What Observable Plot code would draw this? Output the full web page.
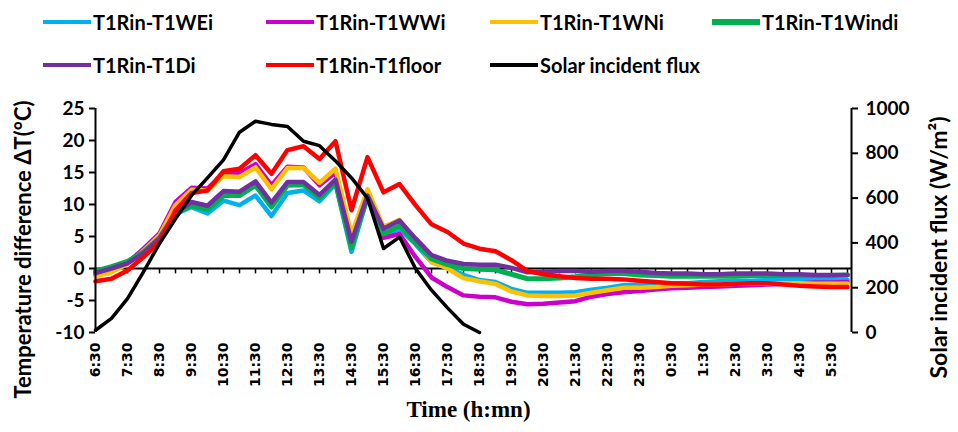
<!DOCTYPE html>
<html><head><meta charset="utf-8">
<script src="https://cdn.jsdelivr.net/npm/d3@7"></script>
<script src="https://cdn.jsdelivr.net/npm/@observablehq/plot@0.6"></script>
<style>
body{margin:0;background:#fff;}
#wrap{position:relative;width:958px;height:432px;overflow:hidden;font-family:Lato,"Open Sans",sans-serif;background:#fff;}
#legend{position:absolute;left:0;top:0;width:958px;height:90px;}
.item{position:absolute;display:flex;align-items:center;font-weight:bold;font-size:20px;color:#000;white-space:nowrap;transform:translateY(-50%);}
.sw{width:48px;height:4px;margin-right:2px;}
#chart{position:absolute;left:0;top:90px;}
</style></head>
<body><div id="wrap"><div id="legend"></div><div id="chart"></div></div>
<script>
// categories (half-hour steps)
const times = ["6:30","7:00","7:30","8:00","8:30","9:00","9:30","10:00","10:30","11:00","11:30","12:00","12:30","13:00","13:30","14:00","14:30","15:00","15:30","16:00","16:30","17:00","17:30","18:00","18:30","19:00","19:30","20:00","20:30","21:00","21:30","22:00","22:30","23:00","23:30","0:00","0:30","1:00","1:30","2:00","2:30","3:00","3:30","4:00","4:30","5:00","5:30","6:00"];
const tickLabels = ["6:30","7:30","8:30","9:30","10:30","11:30","12:30","13:30","14:30","15:30","16:30","17:30","18:30","19:30","20:30","21:30","22:30","23:30","0:30","1:30","2:30","3:30","4:30","5:30"];
const leftTicks = [-10,-5,0,5,10,15,20,25];
const fluxTicks = [0,200,400,600,800,1000];

// series values (°C)
const WEi   = [-0.5,0.2,1.0,2.6,4.8,8.5,9.6,8.6,10.6,9.9,11.4,8.2,11.8,12.2,10.5,13.2,2.6,11.2,5.2,6.2,3.8,1.0,0.2,-1.0,-1.8,-2.1,-3.2,-3.8,-3.8,-3.8,-3.7,-3.3,-3.0,-2.6,-2.5,-2.4,-2.3,-2.3,-2.1,-2.0,-1.9,-1.9,-1.8,-1.8,-1.8,-1.8,-1.8,-1.8];
const WWi   = [-1.0,-0.3,0.9,3.1,5.5,10.4,12.6,12.5,14.9,14.9,16.3,13.0,15.9,15.8,13.0,15.0,4.4,11.5,4.8,5.4,1.8,-1.4,-2.9,-4.2,-4.4,-4.5,-5.2,-5.6,-5.5,-5.3,-5.1,-4.4,-4.0,-3.7,-3.5,-3.3,-3.1,-3.0,-2.9,-2.8,-2.7,-2.6,-2.5,-2.4,-2.3,-2.2,-2.2,-2.1];
const WNi   = [-1.2,-0.6,0.7,2.8,5.2,9.9,12.3,12.2,14.4,14.3,15.8,12.4,15.7,15.7,13.4,15.6,5.3,12.4,6.5,7.6,4.4,1.0,0.0,-1.5,-2.0,-2.4,-3.6,-4.2,-4.3,-4.3,-4.2,-3.8,-3.4,-3.0,-3.0,-2.9,-2.7,-2.6,-2.5,-2.5,-2.4,-2.4,-2.4,-2.3,-2.3,-2.4,-2.4,-2.4];
const Windi = [-0.4,0.3,1.1,2.6,4.8,8.6,9.8,9.2,11.4,11.4,13.0,9.6,13.0,13.1,11.0,13.5,3.2,11.2,5.4,6.7,4.0,1.5,0.6,0.0,-0.1,-0.2,-0.9,-1.6,-1.6,-1.5,-1.3,-1.0,-0.8,-0.8,-1.0,-1.1,-1.2,-1.2,-1.2,-1.2,-1.2,-1.1,-1.1,-1.1,-1.1,-1.1,-1.1,-1.0];
const Di    = [-0.7,0.0,0.8,2.4,4.7,8.7,10.4,9.8,12.1,12.0,13.6,10.3,13.5,13.5,11.5,13.9,4.2,11.4,6.2,7.5,4.7,2.1,1.2,0.7,0.6,0.6,0.1,-0.6,-0.5,-0.4,-0.4,-0.5,-0.4,-0.4,-0.5,-0.7,-0.8,-0.8,-0.9,-0.9,-0.8,-0.8,-0.8,-0.9,-0.9,-1.0,-1.0,-1.0];
const floorT= [-2.0,-1.6,-0.3,1.8,4.1,9.1,11.8,12.2,15.2,15.6,17.7,14.8,18.5,19.1,17.1,19.9,9.1,17.4,11.9,13.2,9.9,6.9,5.7,3.9,3.1,2.7,1.3,-0.4,-0.9,-1.2,-1.5,-1.6,-1.6,-1.7,-1.9,-2.1,-2.3,-2.4,-2.5,-2.5,-2.4,-2.3,-2.3,-2.5,-2.7,-2.8,-2.9,-2.9];
// solar flux (W/m²), 6:30 to 18:30
const flux  = [10,63,151,271,397,508,612,690,771,894,943,929,920,854,834,766,690,600,375,426,286,189,110,37,0];

const seriesNames  = ["T1Rin-T1WEi","T1Rin-T1WWi","T1Rin-T1WNi","T1Rin-T1Windi","T1Rin-T1Di","T1Rin-T1floor","Solar incident flux"];
const seriesColors = ["#00B0F0","#CC00CC","#FFC000","#00B050","#7030A0","#FF0000","#000000"];
const seriesData   = [WEi, WWi, WNi, Windi, Di, floorT];

// flux -> left (°C) scale position
const toT = f => f * 35 / 1000 - 10;

// legend (HTML)
const legend = document.getElementById("legend");
const legPos = [[43,22],[266,22],[490,22],[712,22],[43,65],[266,65],[490,65]];
seriesNames.forEach((n, k) => {
  const it = document.createElement("div");
  it.className = "item";
  it.style.left = legPos[k][0] + "px";
  it.style.top = legPos[k][1] + "px";
  const sw = document.createElement("span");
  sw.className = "sw";
  sw.style.background = seriesColors[k];
  if (k === 3) sw.style.height = "6px";
  it.appendChild(sw);
  it.appendChild(document.createTextNode(n));
  legend.appendChild(it);
});

const idx = times.map((t, i) => i);
const lineMarks = seriesData.map((arr, k) =>
  Plot.line(arr, {x: (d, i) => i, y: d => d, stroke: seriesColors[k], strokeWidth: k === 3 ? 5 : 4.5, strokeLinejoin: "round"})
);

const chart = Plot.plot({
  width: 958, height: 342,
  marginLeft: 95, marginRight: 107, marginTop: 18, marginBottom: 100,
  x: {domain: [0, 47.25], axis: null},
  y: {domain: [-10, 25], axis: null},
  marks: [
    Plot.ruleY([0], {stroke: "#000", strokeWidth: 2}),
    Plot.ruleX(idx.slice(1), {x: d => d, y1: 0, y2: -0.85, stroke: "#000", strokeWidth: 1.5}),
    ...lineMarks,
    Plot.line(flux, {x: (d, i) => i, y: d => toT(d), stroke: "#000", strokeWidth: 3.5, strokeLinejoin: "round"}),
    Plot.ruleX([0], {stroke: "#000", strokeWidth: 2}),
    Plot.ruleX([47.25], {stroke: "#000", strokeWidth: 2}),
    Plot.axisY({anchor: "left", ticks: leftTicks, tickSize: 6, tickPadding: 5, tickFormat: d => String(d), fontSize: 19, fontWeight: "bold", fontFamily: "Lato", strokeWidth: 2, stroke: "#000", fill: "#000"}),
    Plot.axisY({anchor: "right", ticks: fluxTicks.map(toT), tickSize: 6, tickPadding: 8, tickFormat: d => String(Math.round((d + 10) * 1000 / 35)), fontSize: 19, fontWeight: "bold", fontFamily: "Lato", strokeWidth: 2, stroke: "#000", fill: "#000"}),
    Plot.axisX({anchor: "bottom", ticks: tickLabels.map(t => times.indexOf(t)), tickFormat: d => times[d], tickRotate: -90, tickSize: 0, tickPadding: 10, fontSize: 14, fontWeight: "bold", fontFamily: "DejaVu Sans", fill: "#000"}),
    Plot.text(["Temperature difference ΔT(°C)"], {frameAnchor: "left", textAnchor: "middle", dx: -72, dy: 29, rotate: -90, fontSize: 22, fontWeight: "bold", fontFamily: "Lato", fill: "#000"}),
    Plot.text(["Solar incident flux (W/m²)"], {frameAnchor: "right", textAnchor: "middle", dx: 88, dy: 27, rotate: -90, fontSize: 23, fontWeight: "bold", fontFamily: "Lato", fill: "#000"}),
    Plot.text(["Time (h:mn)"], {frameAnchor: "bottom", textAnchor: "middle", dx: -5, dy: 84, fontSize: 23, fontWeight: "bold", fontFamily: "Liberation Serif", fill: "#000"})
  ]
});
document.getElementById("chart").appendChild(chart);
</script>
</body></html>
